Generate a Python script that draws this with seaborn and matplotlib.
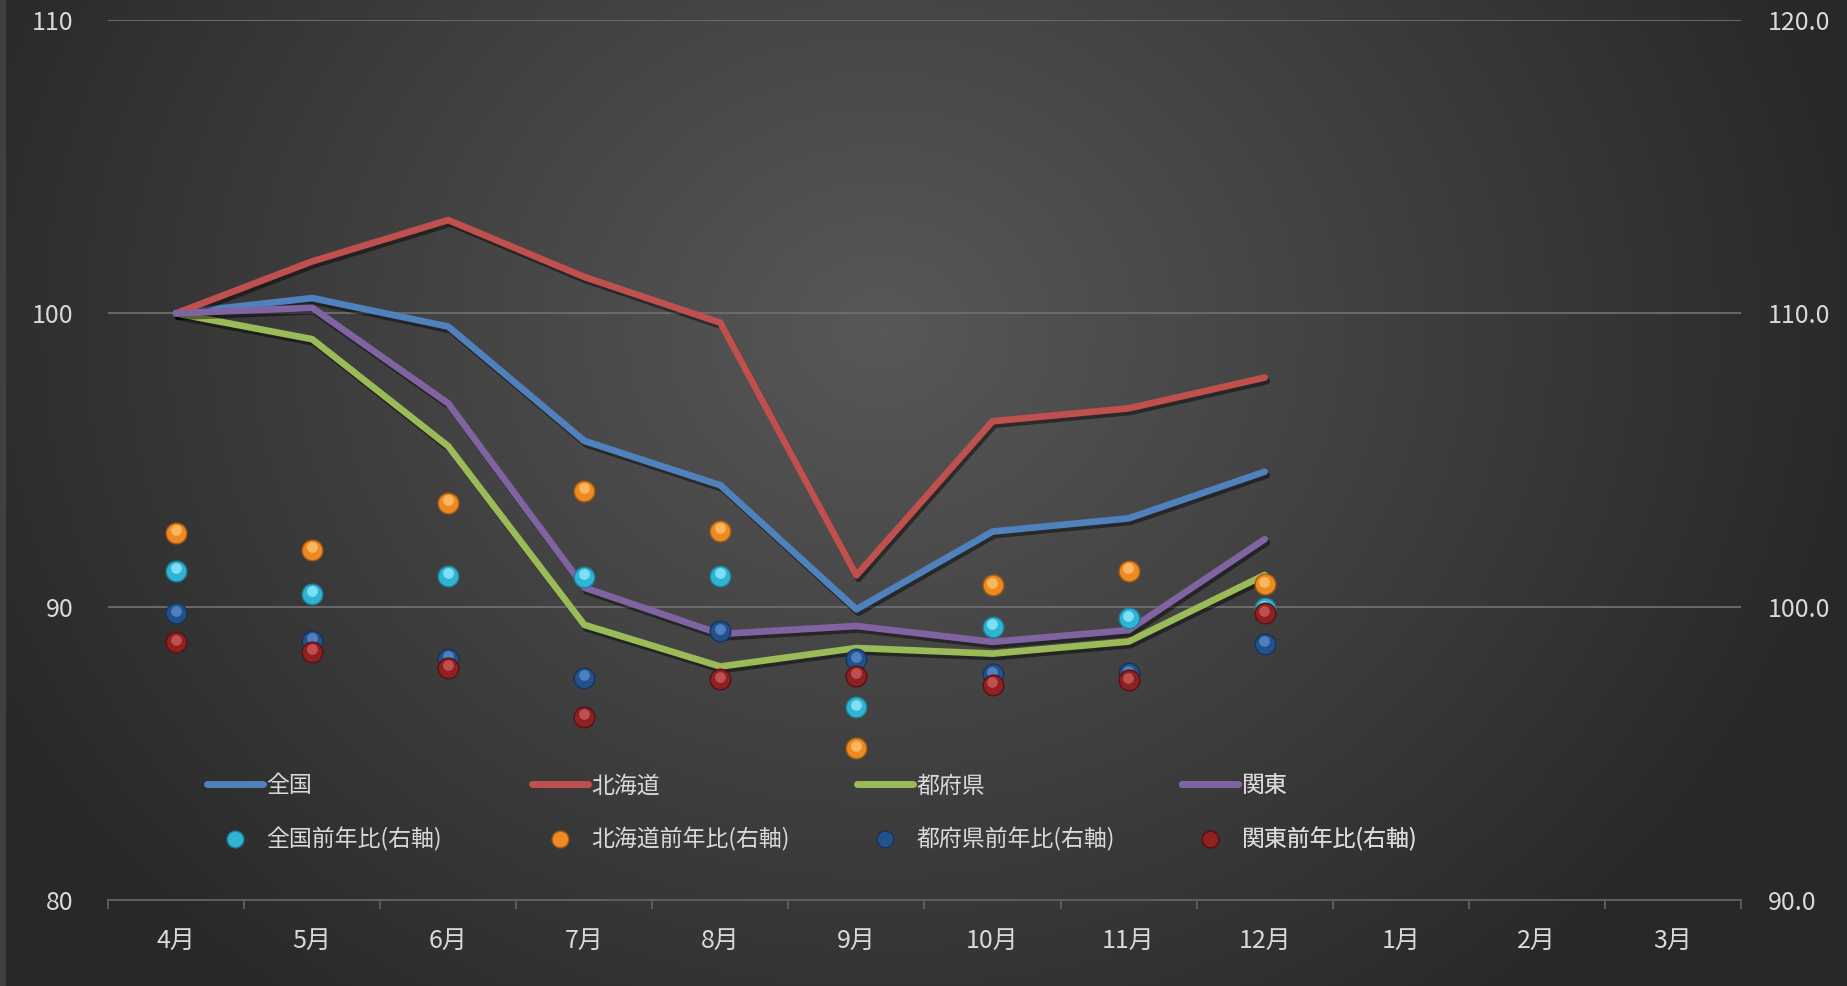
import numpy as np
import pandas as pd
import matplotlib
matplotlib.use('Agg')
import matplotlib.pyplot as plt
import matplotlib.patheffects as pe
import matplotlib.transforms as mtransforms
from matplotlib.lines import Line2D
import seaborn as sns

# データ
months = ['4月', '5月', '6月', '7月', '8月', '9月', '10月', '11月', '12月', '1月', '2月', '3月']
line_names = ['全国', '北海道', '都府県', '関東']
zenkoku = [100.0, 100.52, 99.55, 95.65, 94.14, 89.91, 92.56, 93.01, 94.60]
hokkaido = [100.0, 101.77, 103.18, 101.24, 99.68, 91.07, 96.32, 96.76, 97.81]
tofuken = [100.0, 99.12, 95.47, 89.38, 87.96, 88.59, 88.40, 88.81, 91.08]
kanto = [100.0, 100.19, 96.93, 90.65, 89.07, 89.34, 88.80, 89.20, 92.30]

yoy_names = ['全国前年比(右軸)', '北海道前年比(右軸)', '都府県前年比(右軸)', '関東前年比(右軸)']
zenkoku_yoy = [101.22, 100.44, 101.06, 101.02, 101.05, 96.57, 99.31, 99.60, 99.94]
hokkaido_yoy = [102.52, 101.94, 103.54, 103.95, 102.59, 95.18, 100.73, 101.22, 100.76]
tofuken_yoy = [99.77, 98.83, 98.22, 97.58, 99.16, 98.21, 97.70, 97.73, 98.73]
kanto_yoy = [98.79, 98.47, 97.92, 96.25, 97.52, 97.64, 97.33, 97.50, 99.77]

line_colors = ['#4f81bd', '#c0504d', '#9bbb59', '#8064a2']
dot_colors = ['#2fb4d6', '#ee8a22', '#24518c', '#8e2121']
dot_light = ['#9aeefc', '#ffc778', '#5f8fcf', '#d06060']
dot_edge = ['#1d7f99', '#a85c12', '#15335c', '#5a1010']

sns.set_theme(style='dark')
plt.rcParams['font.family'] = ['Noto Sans CJK JP', 'DejaVu Sans']
text_color = '#d9d9d9'

W, H = 1847, 986
fig = plt.figure(figsize=(W / 100, H / 100), dpi=100)

# 背景のグラデーション
yy, xx = np.mgrid[0:H, 0:W]
r = np.sqrt((xx - 880) ** 2 + ((yy - 330) * 1.15) ** 2) / 1000
g = 0x58 - (0x58 - 0x28) * np.clip(r, 0, 1)
g = g / 255
bg = fig.add_axes([0, 0, 1, 1], zorder=-10)
bg.imshow(np.dstack([g, g, g]), aspect='auto', extent=[0, 1, 0, 1])
bg.add_patch(plt.Rectangle((0, 0), 6 / W, 1, color='#404040', lw=0))
bg.axis('off')

ax = fig.add_axes([108 / W, 86 / H, 1633 / W, 880 / H])
ax.set_facecolor('none')
ax2 = ax.twinx()
ax2.set_facecolor('none')

x = np.arange(len(zenkoku))

df_lines = pd.DataFrame({
    'x': np.tile(x, 4),
    'v': zenkoku + hokkaido + tofuken + kanto,
    's': np.repeat(line_names, len(x)),
})
sns.lineplot(data=df_lines, x='x', y='v', hue='s', palette=dict(zip(line_names, line_colors)),
             linewidth=4.8, ax=ax, legend=False, sort=False)
for ln in ax.lines:
    ln.set_solid_capstyle('round')
    ln.set_path_effects([pe.SimpleLineShadow(offset=(1.5, -2.5), alpha=0.45, shadow_color='black'), pe.Normal()])

yoy_vals = [zenkoku_yoy, hokkaido_yoy, tofuken_yoy, kanto_yoy]
hl = mtransforms.offset_copy(ax2.transData, fig=fig, x=-0.5, y=2.5, units='dots')
for i, name in enumerate(yoy_names):
    d = pd.DataFrame({'x': x, 'v': yoy_vals[i]})
    sns.scatterplot(data=d, x='x', y='v', color=dot_colors[i], s=220, edgecolor=dot_edge[i],
                    linewidth=1.0, ax=ax2, legend=False, zorder=3 + i)
    ax2.scatter(d['x'], d['v'], s=60, color=dot_light[i], alpha=0.75, lw=0, transform=hl, zorder=3 + i)

# 軸
ax.set_xlim(-0.5, 11.5)
ax.set_ylim(80, 110)
ax2.set_ylim(90, 120)
ax.set_yticks([80, 90, 100, 110])
ax2.set_yticks([90, 100, 110, 120])
ax2.set_yticklabels([f'{v:.1f}' for v in [90, 100, 110, 120]])
ax.set_xticks(range(12))
ax.set_xticklabels(months)
ax.set_xticks(np.arange(-0.5, 12, 1), minor=True)
ax.set_xlabel('')
ax.set_ylabel('')
ax2.set_ylabel('')

ax.yaxis.grid(True, color='#6e6e6e', lw=1.3)
ax.xaxis.grid(False)
ax2.grid(False)
ax.set_axisbelow(True)

for s in ['top', 'left', 'right']:
    ax.spines[s].set_visible(False)
for s in ax2.spines:
    ax2.spines[s].set_visible(False)
ax.spines['bottom'].set_color('#606060')
ax.spines['bottom'].set_linewidth(1.3)

ax.tick_params(axis='x', which='major', length=0, pad=20, labelsize=18, labelcolor=text_color)
ax.tick_params(axis='x', which='minor', length=6.5, width=1.3, color='#606060', bottom=True)
ax.tick_params(axis='y', length=0, pad=25, labelsize=18, labelcolor=text_color)
ax2.tick_params(axis='y', length=0, pad=19, labelsize=18, labelcolor=text_color)

# 凡例(列ごと)
col_x0 = (207 - 108) / 1633
col_dx = 325 / 1633
for i in range(4):
    h1 = Line2D([], [], color=line_colors[i], lw=5, solid_capstyle='round')
    h2 = Line2D([], [], ls='', marker='o', markersize=12, markerfacecolor=dot_colors[i],
                markeredgecolor=dot_edge[i])
    leg = ax2.legend([h1, h2], [line_names[i], yoy_names[i]], loc='center left',
                     bbox_to_anchor=(col_x0 + i * col_dx, (900 - 813) / 880),
                     frameon=False, fontsize=16.5, labelcolor=text_color, borderpad=0,
                     borderaxespad=0, handlelength=2.45, handletextpad=0.15, labelspacing=1.3)
    ax2.add_artist(leg)

fig.savefig('out.png', dpi=100)
